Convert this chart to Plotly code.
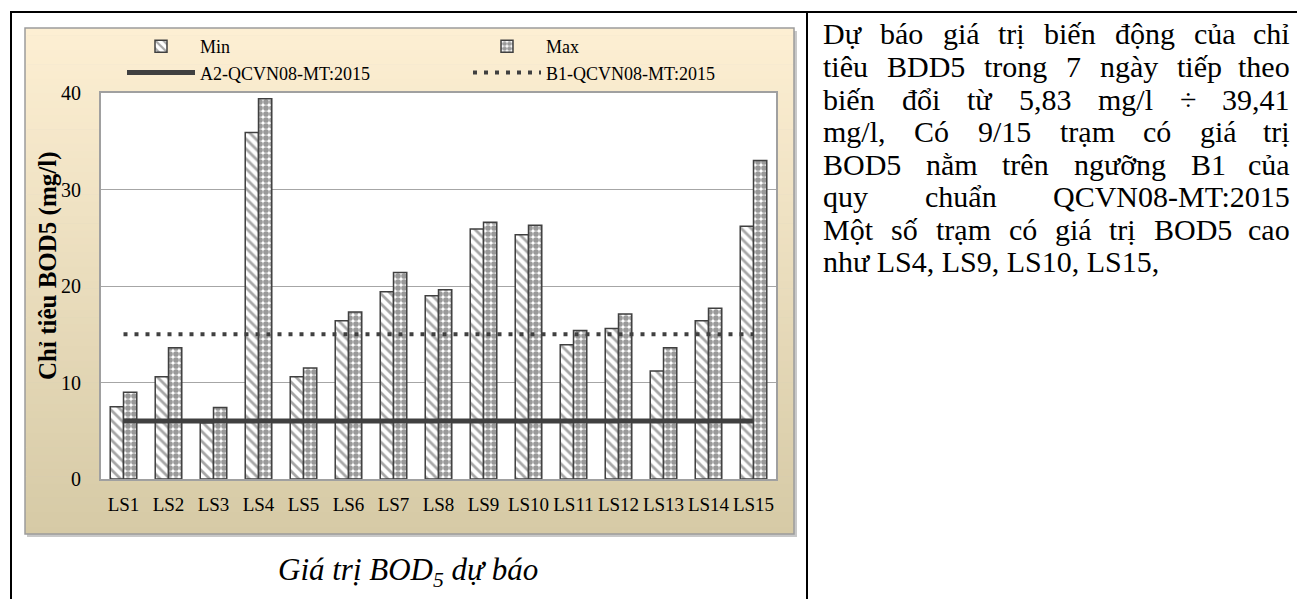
import unicodedata
import plotly.graph_objects as go

# ---------------- data ----------------
categories = ["LS1", "LS2", "LS3", "LS4", "LS5", "LS6", "LS7", "LS8",
              "LS9", "LS10", "LS11", "LS12", "LS13", "LS14", "LS15"]
min_vals = [7.5, 10.6, 5.83, 35.9, 10.6, 16.4, 19.4, 19.0,
            25.9, 25.3, 13.9, 15.6, 11.2, 16.4, 26.2]
max_vals = [9.0, 13.6, 7.4, 39.41, 11.5, 17.3, 21.4, 19.6,
            26.6, 26.3, 15.4, 17.1, 13.6, 17.7, 33.0]
A2_LIMIT = 6
B1_LIMIT = 15
y_ticks = [0, 10, 20, 30, 40]

right_lines = [
    "Dự báo giá trị biến động của chỉ",
    "tiêu BDD5 trong 7 ngày tiếp theo",
    "biến đổi từ 5,83 mg/l ÷ 39,41",
    "mg/l, Có 9/15 trạm có giá trị",
    "BOD5 nằm trên ngưỡng B1 của",
    "quy chuẩn QCVN08-MT:2015",
    "Một số trạm có giá trị BOD5 cao",
    "như LS4, LS9, LS10, LS15,",
]

# ---------------- geometry (pixels) ----------------
W, H = 1297, 599
ML, MT = 101, 93
PLOT_R, PLOT_B = 776, 479
PW, PH = PLOT_R - ML, PLOT_B - MT
SERIF = "Liberation Serif, Times New Roman, serif"


def px(x):
    return (x - ML) / PW


def py(y):
    return (PLOT_B - y) / PH


# Times / Liberation Serif advance widths (per 1000 em)
TW = {' ': 250, ',': 250, '.': 250, '/': 278, ':': 278, '-': 333, '÷': 564,
      '(': 333, ')': 333,
      'A': 722, 'B': 667, 'C': 667, 'D': 722, 'E': 611, 'F': 556, 'G': 722,
      'H': 722, 'I': 333, 'J': 389, 'K': 722, 'L': 611, 'M': 889, 'N': 722,
      'O': 722, 'P': 556, 'Q': 722, 'R': 667, 'S': 556, 'T': 611, 'U': 722,
      'V': 722, 'W': 944, 'X': 722, 'Y': 722, 'Z': 611,
      'a': 444, 'b': 500, 'c': 444, 'd': 500, 'e': 444, 'f': 333, 'g': 500,
      'h': 500, 'i': 278, 'j': 278, 'k': 500, 'l': 278, 'm': 778, 'n': 500,
      'o': 500, 'p': 500, 'q': 500, 'r': 333, 's': 389, 't': 278, 'u': 500,
      'v': 500, 'w': 722, 'x': 500, 'y': 500, 'z': 444}
for d in "0123456789":
    TW[d] = 500


def text_w(s, size):
    tot = 0
    for ch in s:
        if ch in ('đ', 'Đ'):
            base = 'd' if ch == 'đ' else 'D'
            extra = 0
        else:
            nfd = unicodedata.normalize('NFD', ch)
            base = nfd[0]
            extra = 35 if '\u031b' in nfd else 0
        tot += TW.get(base, 500) + extra
    return tot * size / 1000.0


fig = go.Figure()

fig.add_trace(go.Bar(
    x=categories, y=min_vals, name="Min", legend="legend", legendgroup="min",
    marker=dict(color="white", line=dict(color="#404040", width=1.5),
                pattern=dict(shape="\\", fgcolor="#505050", bgcolor="white",
                             size=7, solidity=0.4)),
))
fig.add_trace(go.Bar(
    x=categories, y=max_vals, name="Max", legend="legend2", legendgroup="max",
    marker=dict(color="white", line=dict(color="#404040", width=1.5),
                pattern=dict(shape=".", fgcolor="#333333", bgcolor="white",
                             size=6, solidity=0.7)),
))
fig.add_trace(go.Scatter(
    x=categories, y=[A2_LIMIT] * len(categories), mode="lines",
    name="A2-QCVN08-MT:2015", legend="legend", legendgroup="a2",
    line=dict(color="#404040", width=5),
))
fig.add_trace(go.Scatter(
    x=categories, y=[B1_LIMIT] * len(categories), mode="lines",
    name="B1-QCVN08-MT:2015", legend="legend2", legendgroup="b1",
    line=dict(color="#404040", width=4, dash="4px,7px"),
))

# ---------------- background shapes ----------------
shapes = []
# shadow
shapes.append(dict(type="rect", xref="paper", yref="paper", layer="below",
                   x0=px(27), x1=px(797), y0=py(31), y1=py(537),
                   fillcolor="#c8c8c8", line=dict(width=0)))
# gradient
top_c = (253, 239, 211)
bot_c = (214, 202, 166)
N = 70
y_top, y_bot = 28, 534
for i in range(N):
    t = i / (N - 1)
    c = tuple(int(round(top_c[k] + (bot_c[k] - top_c[k]) * t)) for k in range(3))
    y0 = y_top + (y_bot - y_top) * i / N
    y1 = y_top + (y_bot - y_top) * (i + 1) / N + 0.6
    shapes.append(dict(type="rect", xref="paper", yref="paper", layer="below",
                       x0=px(25), x1=px(794), y0=py(min(y1, y_bot)), y1=py(y0),
                       fillcolor="rgb(%d,%d,%d)" % c, line=dict(width=0)))
# border of chart area
shapes.append(dict(type="rect", xref="paper", yref="paper", layer="below",
                   x0=px(25), x1=px(794), y0=py(534), y1=py(28),
                   fillcolor="rgba(0,0,0,0)", line=dict(color="#9c9c9c", width=1.5)))
# white plot area
shapes.append(dict(type="rect", xref="paper", yref="paper", layer="below",
                   x0=0, x1=1, y0=0, y1=1, fillcolor="white", line=dict(width=0)))
# table lines
for s in [dict(x0=px(11), x1=px(11), y0=py(12), y1=py(610)),
          dict(x0=px(807), x1=px(807), y0=py(12), y1=py(610)),
          dict(x0=px(10), x1=px(1310), y0=py(12), y1=py(12))]:
    shapes.append(dict(type="line", xref="paper", yref="paper", layer="above",
                       line=dict(color="black", width=2), **s))

# ---------------- annotations ----------------
annotations = []
annotations.append(dict(
    text="<b>Chỉ tiêu BOD5 (mg/l)</b>", textangle=-90, xref="paper", yref="paper",
    x=px(48), y=py(266), xanchor="center", yanchor="middle", showarrow=False,
    font=dict(family=SERIF, size=25, color="black")))
annotations.append(dict(
    text="<i>Giá trị BOD<sub>5</sub> dự báo</i>", xref="paper", yref="paper",
    x=px(408), y=py(572), xanchor="center", yanchor="middle", showarrow=False,
    font=dict(family=SERIF, size=31, color="black")))

FS = 30
LEFT, RIGHT = 822, 1291
base0 = 43
pitch = 32.5
for li, line in enumerate(right_lines):
    ybase = base0 + li * pitch
    ycen = ybase - 0.30 * FS
    words = line.split(" ")
    if li == len(right_lines) - 1 or len(words) == 1:
        annotations.append(dict(text=line, xref="paper", yref="paper",
                                x=px(LEFT), y=py(ycen), xanchor="left", yanchor="middle",
                                showarrow=False, borderpad=0,
                                font=dict(family=SERIF, size=FS, color="black")))
        continue
    widths = [text_w(w_, FS) for w_ in words]
    gap = (RIGHT - LEFT - sum(widths)) / (len(words) - 1)
    xcur = LEFT
    for wi, (wd, ww) in enumerate(zip(words, widths)):
        if wi == len(words) - 1:
            annotations.append(dict(text=wd, xref="paper", yref="paper",
                                    x=px(RIGHT), y=py(ycen), xanchor="right", yanchor="middle",
                                    showarrow=False, borderpad=0,
                                    font=dict(family=SERIF, size=FS, color="black")))
        else:
            annotations.append(dict(text=wd, xref="paper", yref="paper",
                                    x=px(xcur), y=py(ycen), xanchor="left", yanchor="middle",
                                    showarrow=False, borderpad=0,
                                    font=dict(family=SERIF, size=FS, color="black")))
        xcur += ww + gap

legend_common = dict(orientation="v", xanchor="left", yanchor="top",
                     bgcolor="rgba(0,0,0,0)", borderwidth=0,
                     font=dict(family=SERIF, size=18, color="black"),
                     itemwidth=68, tracegroupgap=3, traceorder="normal",
                     itemclick=False, itemdoubleclick=False)

fig.update_layout(
    width=W, height=H, autosize=False,
    margin=dict(l=ML, r=W - PLOT_R, t=MT, b=H - PLOT_B, pad=0),
    paper_bgcolor="white", plot_bgcolor="white",
    barmode="group", bargap=0.41, bargroupgap=0,
    shapes=shapes, annotations=annotations,
    legend=dict(x=px(122), y=py(28), **legend_common),
    legend2=dict(x=px(468), y=py(28), **legend_common),
    font=dict(family=SERIF, color="black"),
    xaxis=dict(type="category", showgrid=False, showline=True, mirror=True,
               linecolor="#a0a0a0", linewidth=2, ticks="", ticklabelstandoff=7,
               tickfont=dict(family=SERIF, size=19, color="black"), fixedrange=True),
    yaxis=dict(range=[0, 40], tickvals=y_ticks, showgrid=True, gridcolor="#a6a6a6",
               gridwidth=1, zeroline=False, showline=True, mirror=True,
               linecolor="#a0a0a0", linewidth=2, ticks="", ticklabelstandoff=14,
               tickfont=dict(family=SERIF, size=20, color="black"), fixedrange=True),
)

fig.write_html("out.html", config={"displayModeBar": False},
               post_script="document.body.style.margin='0';document.body.style.overflow='hidden';")
